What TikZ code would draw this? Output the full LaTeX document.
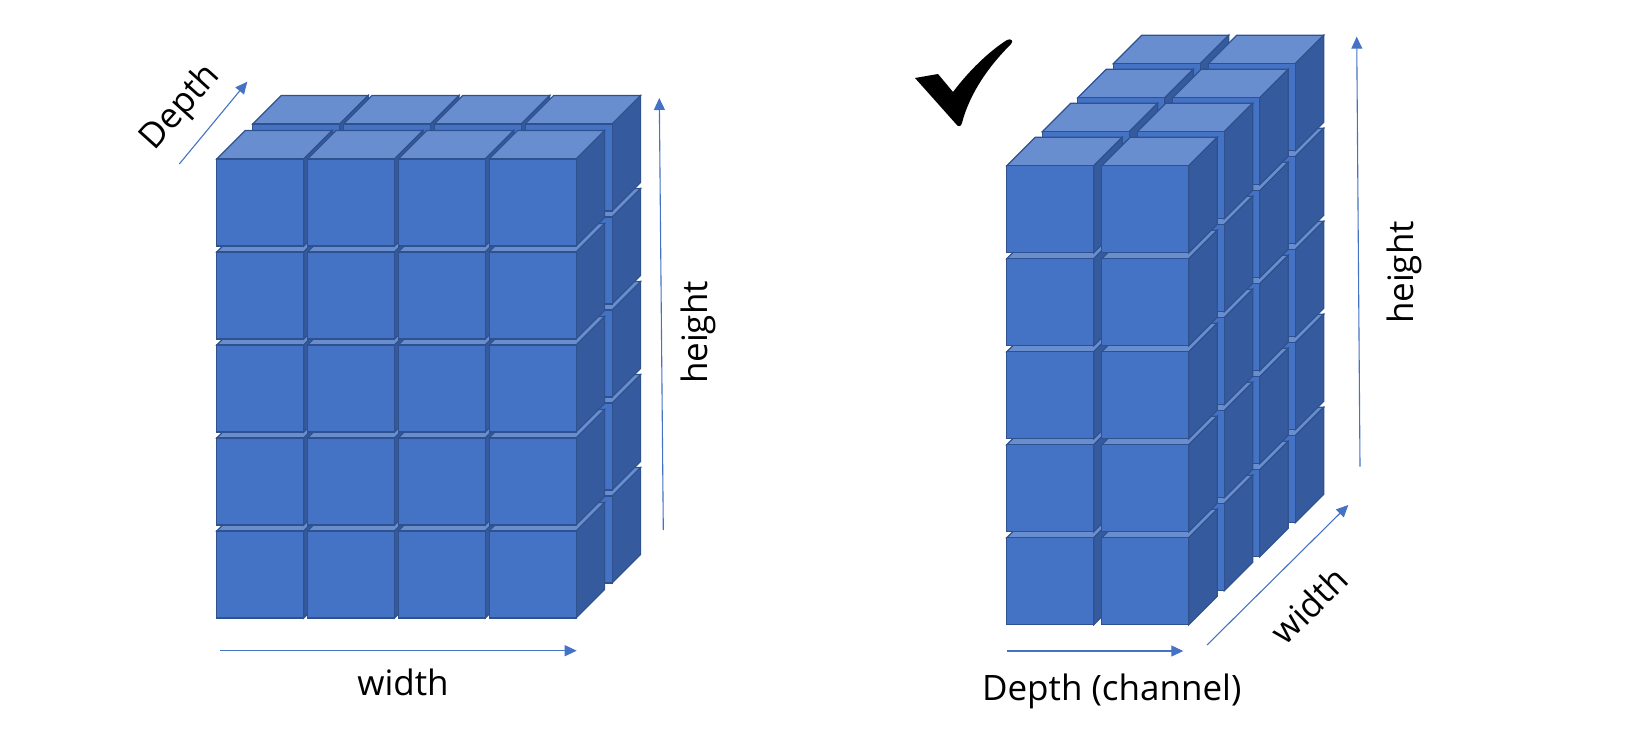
\documentclass[tikz,border=0pt]{standalone}
\usepackage{fontspec}
\setmainfont{Open Sans}
\usetikzlibrary{arrows.meta}
\definecolor{frontc}{HTML}{4472C4}
\definecolor{topc}{HTML}{698ED0}
\definecolor{sidec}{HTML}{355B9E}
\definecolor{edgec}{HTML}{2F528F}
\definecolor{axisc}{HTML}{4472C4}
\newcommand{\drawcube}[2]{%
  \filldraw[cubetop] (#1,#2) -- ++(28.5,-28.5) -- ++(87,0) -- ++(-28.5,28.5) -- cycle;
  \filldraw[cubeside] (#1+87,#2) -- ++(28.5,-28.5) -- ++(0,87) -- ++(-28.5,28.5) -- cycle;
  \filldraw[cubefront] (#1,#2) rectangle ++(87,87);
}
\tikzset{
  cubeface/.style={draw=edgec, line width=1.2pt, line join=miter},
  cubetop/.style={cubeface, fill=topc},
  cubeside/.style={cubeface, fill=sidec},
  cubefront/.style={cubeface, fill=frontc},
  axis/.style={draw=axisc, line width=1.1pt, -{Triangle[length=12pt,width=11pt]}},
  lbl/.style={font=\fontsize{35}{42}\selectfont, inner sep=0pt, text=black}
}
\begin{document}
\begin{tikzpicture}[x=1pt,y=-1pt]
\useasboundingbox (0,0) rectangle (1630,742);
% left block: 4 wide, 5 high, 2 deep
\foreach \l in {1,0}{
  \foreach \r in {4,3,2,1,0}{
    \foreach \c in {0,1,2,3}{
      \pgfmathsetmacro\px{216.7+90.8*\c+36*\l}
      \pgfmathsetmacro\py{159+93*\r-35*\l}
      \drawcube{\px}{\py}
    }}}
% right block: 2 wide, 5 high, 4 deep
\foreach \l in {3,2,1,0}{
  \foreach \r in {4,3,2,1,0}{
    \foreach \c in {0,1}{
      \pgfmathsetmacro\px{1006.7+95*\c+35.5*\l}
      \pgfmathsetmacro\py{165.7+93*\r-34*\l}
      \drawcube{\px}{\py}
    }}}
% axes
\coordinate (lwA) at (220,650.7);   \coordinate (lwB) at (576.7,650.7);
\coordinate (lhA) at (663.3,530);   \coordinate (lhB) at (659.3,98);
\coordinate (ldA) at (179.3,164);   \coordinate (ldB) at (247.3,81.7);
\coordinate (rhA) at (1360,466.7);  \coordinate (rhB) at (1356.7,36.7);
\coordinate (rwA) at (1207,645);    \coordinate (rwB) at (1348.3,505);
\coordinate (rdA) at (1007.3,651);  \coordinate (rdB) at (1183.3,651);
\draw[axis] (lwA) -- (lwB);
\draw[axis] (lhA) -- (lhB);
\draw[axis] (ldA) -- (ldB);
\draw[axis] (rhA) -- (rhB);
\draw[axis] (rwA) -- (rwB);
\draw[axis] (rdA) -- (rdB);
% labels
\node[lbl, anchor=base] (lwidth) at (403,695) {width};
\node[lbl, anchor=base, rotate=90] (lheight) at (707,332.5) {height};
\node[lbl, rotate=48] (ldepth) at (181,108) {Depth};
\node[lbl, anchor=base, rotate=90] (rheight) at (1413,272.5) {height};
\node[lbl, rotate=45] (rwidth) at (1309,605) {width};
\node[lbl, anchor=base] (rdepth) at (1111.7,700) {Depth (channel)};
% check mark
\fill[black] (915,78) -- (938,74) -- (953,92)
  .. controls (968,72) and (988,52) .. (1007,40)
  .. controls (1011,38) and (1014,41) .. (1011,44)
  .. controls (990,65) and (970,92) .. (962,123)
  .. controls (961,127) and (958,127) .. (956,124) -- cycle;
\end{tikzpicture}
\end{document}
